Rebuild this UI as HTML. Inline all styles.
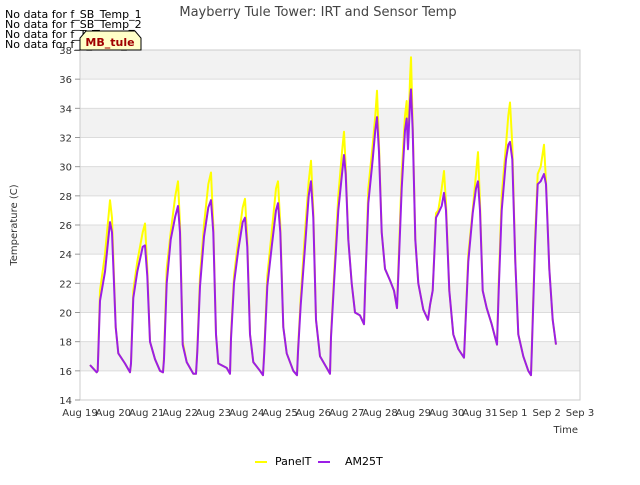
<!DOCTYPE html>
<html><head><meta charset="utf-8"><style>
body{margin:0;background:#fff;font-family:"Liberation Sans","DejaVu Sans",sans-serif;}
svg text{font-family:"DejaVu Sans","Liberation Sans",sans-serif;}
</style></head><body>
<svg id="c" width="640" height="480" xmlns="http://www.w3.org/2000/svg">
<rect width="640" height="480" fill="#fff"/>
<g id="bands"></g><g id="grid"></g>
<rect x="80" y="50" width="500" height="350" fill="none" stroke="#ccc"/>
<g id="series"></g><g id="yt"></g><g id="xt"></g>
<text x="318" y="16" text-anchor="middle" font-size="13" fill="#444">Mayberry Tule Tower: IRT and Sensor Temp</text>
<text transform="translate(17,225) rotate(-90)" text-anchor="middle" font-size="10" fill="#333">Temperature (C)</text>
<text x="578" y="433" text-anchor="end" font-size="10" fill="#333">Time</text>
<g font-size="11" fill="#000">
<text x="5" y="18">No data for f_SB_Temp_1</text>
<text x="5" y="28">No data for f_SB_Temp_2</text>
<text x="5" y="38">No data for f_T_Temp_1</text>
<text x="5" y="48">No data for f_T_Temp_2</text>
</g>
<path d="M80,50 L80,38 L86,31 L135,31 L141,38 L141,50 Z" fill="#ffffc8" stroke="#000" stroke-width="1"/>
<text x="110" y="46" text-anchor="middle" font-size="11" font-weight="bold" fill="#a00000">MB_tule</text>
<g>
<line x1="255" y1="462" x2="267" y2="462" stroke="#ffff00" stroke-width="2"/>
<text x="275" y="465" font-size="11" fill="#000">PanelT</text>
<line x1="318" y1="462" x2="330" y2="462" stroke="#9b1ee6" stroke-width="2"/>
<text x="345" y="465" font-size="11" fill="#000">AM25T</text>
</g>
</svg>
<script>
const times=[0.30,0.50,0.53,0.60,0.75,0.90,0.96,1.07,1.15,1.35,1.50,
1.53,1.60,1.72,1.88,1.95,2.02,2.10,2.25,2.40,2.49,
2.52,2.60,2.72,2.86,2.94,3.00,3.08,3.20,3.40,3.48,
3.52,3.60,3.72,3.85,3.93,4.00,4.08,4.15,4.40,4.50,
4.53,4.62,4.75,4.88,4.95,5.02,5.10,5.20,5.40,5.49,
5.53,5.62,5.75,5.88,5.94,6.01,6.10,6.20,6.40,6.51,
6.54,6.62,6.75,6.86,6.93,7.00,7.08,7.20,7.40,7.50,
7.53,7.62,7.75,7.86,7.92,7.97,8.05,8.15,8.25,8.40,8.52,
8.56,8.65,8.78,8.86,8.91,8.97,9.05,9.15,9.30,9.42,9.51,
9.55,9.65,9.75,9.80,9.84,9.90,9.93,9.98,10.06,10.15,10.30,10.44,
10.50,10.58,10.68,10.75,10.85,10.92,10.98,11.08,11.20,11.35,11.52,
11.55,11.65,11.78,11.88,11.94,12.00,12.08,12.20,12.35,12.51,
12.56,12.65,12.78,12.85,12.90,12.97,13.06,13.15,13.30,13.45,13.53,
13.56,13.65,13.73,13.82,13.92,13.98,14.08,14.18,14.28];
const panelT=[16.4,15.9,16.0,21.5,24.0,27.7,26.5,19.0,17.2,16.5,15.9,
16.5,21.5,23.5,25.5,26.1,23.0,18.0,16.8,16.0,15.9,
17.0,23.0,25.5,28.0,29.0,26.0,18.0,16.6,15.8,15.8,
17.5,22.5,26.0,28.8,29.6,26.0,18.5,16.5,16.2,15.8,
18.5,22.5,25.0,27.2,27.8,25.0,18.5,16.6,16.0,15.7,
17.5,22.5,25.5,28.5,29.0,26.0,19.0,17.2,16.0,15.7,
17.5,21.0,25.5,29.0,30.4,27.0,19.5,17.0,16.2,15.8,
18.5,22.5,28.0,31.0,32.4,30.0,25.0,22.0,20.0,19.8,19.2,
22.0,28.5,31.5,33.5,35.2,31.5,25.5,23.0,22.2,21.5,20.3,
23.0,29.5,33.5,34.5,31.5,36.0,37.5,33.0,25.0,22.0,20.2,19.5,
20.5,21.5,26.8,27.0,28.5,29.7,27.5,21.5,18.5,17.5,16.9,
18.5,24.0,27.0,29.5,31.0,27.5,21.5,20.3,19.2,17.8,
22.0,28.0,31.5,33.5,34.4,31.5,23.5,18.5,17.0,16.0,15.7,
18.0,25.0,29.5,30.0,31.5,29.0,23.0,19.5,17.8];
const am25T=[16.4,15.9,16.0,20.8,22.8,26.2,25.5,19.0,17.2,16.5,15.9,
16.5,21.0,22.8,24.5,24.6,22.5,18.0,16.8,16.0,15.9,
16.8,22.0,25.0,26.6,27.3,25.5,17.8,16.6,15.8,15.8,
17.3,21.8,25.2,27.2,27.7,25.5,18.5,16.5,16.2,15.8,
18.2,22.0,24.3,26.2,26.5,24.5,18.5,16.6,16.0,15.7,
17.3,21.8,24.5,27.0,27.5,25.5,19.0,17.2,16.0,15.7,
17.3,20.5,24.5,28.0,29.0,26.5,19.5,17.0,16.2,15.8,
18.3,22.0,27.0,29.5,30.8,29.5,25.0,22.0,20.0,19.8,19.2,
22.0,27.5,30.5,32.5,33.4,31.0,25.5,23.0,22.2,21.5,20.3,
22.5,28.5,32.5,33.3,31.2,34.5,35.3,32.5,25.0,22.0,20.2,19.5,
20.5,21.5,26.5,26.8,27.3,28.2,27.0,21.5,18.5,17.5,16.9,
18.5,23.5,26.8,28.5,29.0,27.0,21.5,20.3,19.2,17.8,
21.5,27.0,30.5,31.5,31.7,30.5,23.5,18.5,17.0,16.0,15.7,
17.8,24.5,28.8,29.0,29.5,28.8,23.0,19.5,17.8];
const yTicks=[14,16,18,20,22,24,26,28,30,32,34,36,38];
const xLabels=["Aug 19","Aug 20","Aug 21","Aug 22","Aug 23","Aug 24","Aug 25","Aug 26","Aug 27","Aug 28","Aug 29","Aug 30","Aug 31","Sep 1","Sep 2","Sep 3"];
const NS="http://www.w3.org/2000/svg";
const X=t=>80+t*500/15, Y=v=>400-(v-14)*350/24;
function mk(tag,attrs,parent){const e=document.createElementNS(NS,tag);for(const k in attrs)e.setAttribute(k,attrs[k]);document.getElementById(parent).appendChild(e);return e;}
for(let v=16;v<38;v+=4){
 const r=mk('rect',{x:80,y:Y(v+2),width:500,height:Y(v)-Y(v+2),fill:'#f2f2f2'},'bands');
 
 
}
yTicks.forEach(v=>{
 const l=mk('line',{x1:80,x2:580,y1:Y(v),y2:Y(v),stroke:'#dcdcdc','stroke-width':1},'grid');
 
 
 mk('line',{x1:75,x2:80,y1:Y(v),y2:Y(v),stroke:'#999'},'yt');
 const t=mk('text',{x:72,y:Y(v)+4,'text-anchor':'end','font-size':10,fill:'#333'},'yt');
 t.textContent=v;
 
 
});
xLabels.forEach((s,i)=>{
 const t=mk('text',{x:X(i),y:416,'text-anchor':'middle','font-size':10,fill:'#333'},'xt');
 t.textContent=s;
 
 
});
function line(vals,color,name){
 const d=times.map((t,i)=>(i?'L':'M')+X(t).toFixed(1)+','+Y(vals[i]).toFixed(1)).join('');
 const p=mk('path',{d:d,fill:'none',stroke:color,'stroke-width':2,'stroke-linejoin':'round'},'series');
 
 
}
line(panelT,'#ffff00','panelt-line');
line(am25T,'#9b1ee6','am25t-line');
</script>
</body></html>
